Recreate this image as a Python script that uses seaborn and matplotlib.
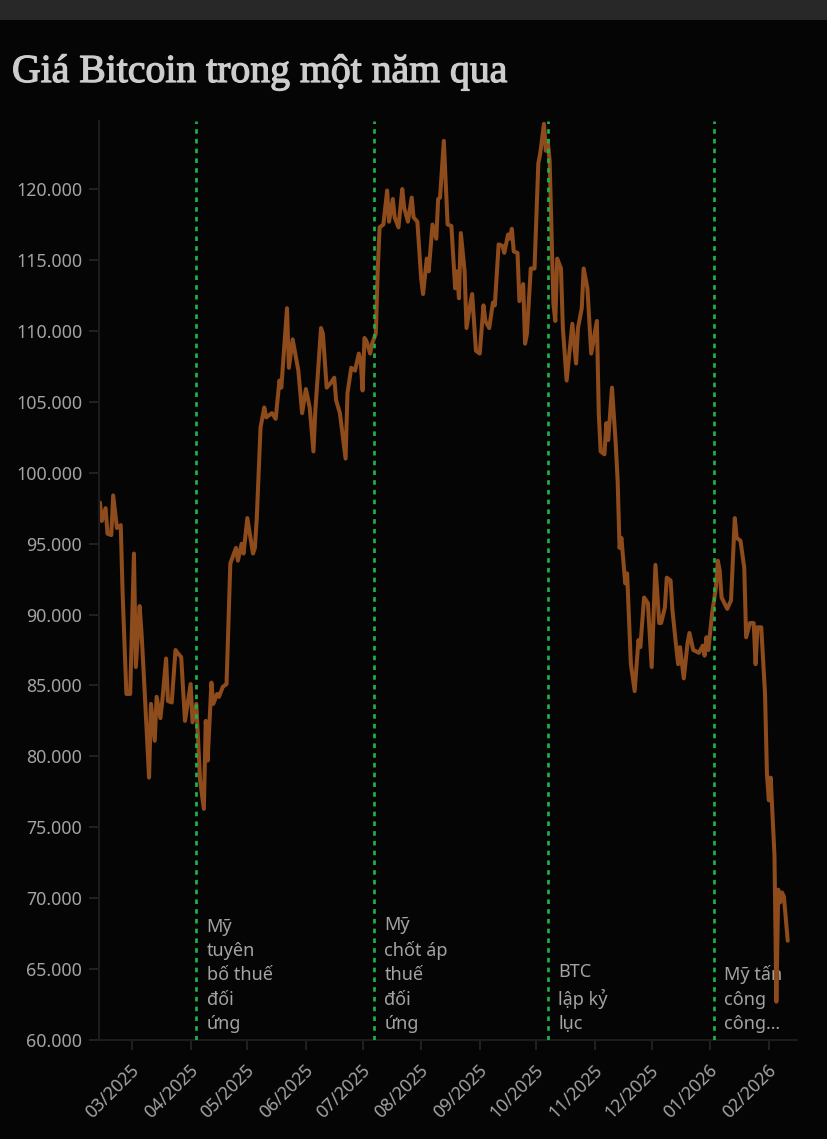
import matplotlib
matplotlib.use("Agg")
import matplotlib.pyplot as plt
import matplotlib.dates as mdates
import matplotlib.transforms as mtransforms
import matplotlib.patheffects as pe
from matplotlib.patches import Rectangle
from matplotlib.ticker import FuncFormatter, MultipleLocator
import pandas as pd
import seaborn as sns

# gia BTC (nghin USD) doc tu bieu do
ngay = [
    "2025-02-12", "2025-02-13", "2025-02-15", "2025-02-16", "2025-02-18", "2025-02-19",
    "2025-02-21", "2025-02-23", "2025-02-24", "2025-02-26", "2025-02-28",
    "2025-03-02", "2025-03-03", "2025-03-05", "2025-03-06", "2025-03-07", "2025-03-10",
    "2025-03-11", "2025-03-13", "2025-03-14", "2025-03-16", "2025-03-17", "2025-03-19",
    "2025-03-20", "2025-03-22", "2025-03-24", "2025-03-25", "2025-03-27", "2025-03-29",
    "2025-04-01", "2025-04-02", "2025-04-04", "2025-04-06", "2025-04-08", "2025-04-09",
    "2025-04-10", "2025-04-12", "2025-04-13", "2025-04-15", "2025-04-16", "2025-04-18",
    "2025-04-20", "2025-04-22", "2025-04-25", "2025-04-26", "2025-04-28", "2025-04-29",
    "2025-05-01", "2025-05-04", "2025-05-05", "2025-05-06", "2025-05-08", "2025-05-10",
    "2025-05-11", "2025-05-14", "2025-05-16", "2025-05-18", "2025-05-19", "2025-05-22",
    "2025-05-23", "2025-05-25", "2025-05-28", "2025-05-30",
    "2025-06-01", "2025-06-03", "2025-06-05", "2025-06-06", "2025-06-09", "2025-06-10",
    "2025-06-12", "2025-06-14", "2025-06-16", "2025-06-17", "2025-06-19", "2025-06-22",
    "2025-06-23", "2025-06-25", "2025-06-27", "2025-06-29", "2025-06-30",
    "2025-07-01", "2025-07-02", "2025-07-03", "2025-07-05", "2025-07-06", "2025-07-08",
    "2025-07-09", "2025-07-10", "2025-07-12", "2025-07-14", "2025-07-15", "2025-07-17",
    "2025-07-18", "2025-07-20", "2025-07-22", "2025-07-23", "2025-07-25", "2025-07-27",
    "2025-07-28", "2025-07-30",
    "2025-08-01", "2025-08-02", "2025-08-04", "2025-08-05", "2025-08-07", "2025-08-09",
    "2025-08-10", "2025-08-11", "2025-08-13", "2025-08-15", "2025-08-17", "2025-08-19",
    "2025-08-20", "2025-08-21", "2025-08-22", "2025-08-24", "2025-08-25", "2025-08-27",
    "2025-08-28", "2025-08-30",
    "2025-09-01", "2025-09-03", "2025-09-04", "2025-09-06", "2025-09-08", "2025-09-09",
    "2025-09-11", "2025-09-13", "2025-09-14", "2025-09-16", "2025-09-17", "2025-09-18",
    "2025-09-19", "2025-09-21", "2025-09-22", "2025-09-24", "2025-09-25", "2025-09-26",
    "2025-09-28", "2025-09-30",
    "2025-10-02", "2025-10-03", "2025-10-05", "2025-10-06", "2025-10-07", "2025-10-08",
    "2025-10-10", "2025-10-11", "2025-10-12", "2025-10-14", "2025-10-15", "2025-10-17",
    "2025-10-20", "2025-10-22", "2025-10-23", "2025-10-25", "2025-10-26", "2025-10-28",
    "2025-10-30",
    "2025-11-02", "2025-11-03", "2025-11-04", "2025-11-06", "2025-11-07", "2025-11-08",
    "2025-11-10", "2025-11-12", "2025-11-13", "2025-11-14", "2025-11-15", "2025-11-17",
    "2025-11-18", "2025-11-20", "2025-11-22", "2025-11-24", "2025-11-25", "2025-11-27",
    "2025-11-29",
    "2025-12-01", "2025-12-03", "2025-12-05", "2025-12-06", "2025-12-08", "2025-12-09",
    "2025-12-11", "2025-12-12", "2025-12-14", "2025-12-15", "2025-12-16", "2025-12-18",
    "2025-12-20", "2025-12-21", "2025-12-23", "2025-12-26", "2025-12-28", "2025-12-29",
    "2025-12-30", "2025-12-31",
    "2026-01-02", "2026-01-04", "2026-01-05", "2026-01-06", "2026-01-07", "2026-01-10",
    "2026-01-12", "2026-01-14", "2026-01-15", "2026-01-17", "2026-01-19", "2026-01-20",
    "2026-01-22", "2026-01-24", "2026-01-25", "2026-01-26", "2026-01-28", "2026-01-30",
    "2026-01-31",
    "2026-02-01", "2026-02-02", "2026-02-04", "2026-02-05", "2026-02-06", "2026-02-07",
    "2026-02-08", "2026-02-09", "2026-02-11",
]
gia_nghin = [
    97.9, 96.6, 97.5, 95.7, 95.6, 98.4,
    96.1, 96.3, 91.5, 84.4, 84.4,
    94.3, 86.3, 90.6, 88.7, 86.3, 78.5,
    83.7, 81.1, 84.2, 82.7, 83.9, 86.9,
    83.9, 83.8, 87.5, 87.3, 87.0, 82.5,
    85.1, 82.4, 83.7, 78.3, 76.3, 82.5,
    79.7, 85.2, 83.7, 84.4, 84.2, 84.9,
    85.1, 93.6, 94.7, 93.8, 95.0, 94.3,
    96.8, 94.3, 94.7, 96.8, 103.2, 104.6,
    103.9, 104.2, 103.8, 106.5, 106.0, 111.6,
    107.4, 109.4, 107.2, 104.2,
    105.9, 104.6, 101.5, 104.4, 110.2, 109.8,
    106.0, 106.3, 106.7, 105.1, 104.2, 101.0,
    105.6, 107.4, 107.2, 108.4, 107.9,
    105.8, 109.5, 109.3, 108.4, 109.1, 109.8,
    114.2, 117.3, 117.5, 119.9, 117.7, 119.3,
    118.0, 117.3, 120.0, 118.7, 117.7, 119.4,
    118.0, 117.7,
    113.7, 112.6, 115.1, 114.2, 117.5, 116.5,
    119.3, 119.4, 123.4, 117.5, 117.4, 113.0,
    114.2, 112.3, 116.9, 114.2, 110.2, 111.9,
    112.6, 108.6,
    108.4, 111.8, 110.7, 110.2, 112.0, 111.8,
    116.1, 116.0, 115.5, 116.8, 116.5, 117.2,
    115.6, 115.5, 112.1, 113.3, 109.1, 109.8,
    114.4, 114.4,
    121.8, 122.5, 124.6, 122.7, 123.4, 122.0,
    111.9, 110.7, 115.1, 114.4, 110.2, 106.5,
    110.5, 107.7, 110.2, 111.6, 114.4, 113.0,
    108.4,
    110.7, 104.2, 101.5, 101.3, 103.5, 102.3,
    106.0, 102.0, 99.4, 94.7, 95.4, 92.2,
    92.9, 86.5, 84.6, 88.2, 87.7, 91.2,
    90.8,
    86.3, 93.5, 89.4, 89.4, 90.5, 92.6,
    92.4, 90.3, 87.7, 86.5, 87.7, 85.5,
    88.0, 88.7, 87.5, 87.3, 87.8, 87.1,
    88.4, 87.5,
    90.1, 91.9, 93.8, 93.1, 91.2, 90.4,
    91.0, 96.8, 95.4, 95.2, 93.3, 88.4,
    89.4, 89.4, 86.5, 89.1, 89.1, 84.4,
    78.8,
    76.9, 78.5, 73.0, 62.7, 70.6, 69.7,
    70.4, 70.1, 67.0,
]

su_kien_ngay = ["2025-04-04", "2025-07-07", "2025-10-07", "2026-01-03"]
su_kien_nhan = [
    "Mỹ\ntuyên\nbố thuế\nđối\nứng",
    "Mỹ\nchốt áp\nthuế\nđối\nứng",
    "BTC\nlập kỷ\nlục",
    "Mỹ tấn\ncông\ncông…",
]

df = pd.DataFrame({"ngay": pd.to_datetime(ngay), "gia": [g * 1000 for g in gia_nghin]})

sns.set_theme(style="dark")
plt.rcParams["font.family"] = ["Noto Sans", "DejaVu Sans"]
nen = "#050505"
chu = "#a3a3a3"

fig = plt.figure(figsize=(8.28, 11.39), dpi=100, facecolor=nen)
fig.patches.append(Rectangle((0, 1 - 20 / 1139), 1, 20 / 1139, transform=fig.transFigure,
                             facecolor="#282828", edgecolor="none", zorder=0))
ax = fig.add_axes([99 / 828, 99 / 1139, 698 / 828, 919 / 1139])
ax.set_facecolor(nen)

sns.lineplot(data=df, x="ngay", y="gia", ax=ax, color="#8e4b1b", linewidth=2.9, zorder=2,
             solid_joinstyle="round")

for d, nhan in zip(su_kien_ngay, su_kien_nhan):
    d = pd.Timestamp(d)
    ax.axvline(d, color="#1fb04a", linestyle=(0, (1.7, 1.9)), linewidth=1.95, zorder=3)
    ax.annotate(nhan, xy=(d, 0), xycoords=("data", "axes fraction"), xytext=(7.5, 5),
                textcoords="offset points", ha="left", va="bottom", color=chu,
                fontsize=13, linespacing=1.45, zorder=1)

ax.set_xlim(pd.Timestamp("2025-02-11 12:00"), pd.Timestamp("2026-02-15 22:00"))
ax.set_ylim(60000, 124800)
ax.yaxis.set_major_locator(MultipleLocator(5000))
ax.yaxis.set_major_formatter(FuncFormatter(lambda v, p: f"{v:,.0f}".replace(",", ".")))
ax.xaxis.set_major_locator(mdates.MonthLocator())
ax.xaxis.set_major_formatter(mdates.DateFormatter("%m/%Y"))
ax.set_xlabel("")
ax.set_ylabel("")
ax.grid(False)

for s in ["top", "right"]:
    ax.spines[s].set_visible(False)
for s in ["left", "bottom"]:
    ax.spines[s].set_visible(True)
    ax.spines[s].set_color("#1c1c1c")
    ax.spines[s].set_linewidth(1.5)

ax.tick_params(axis="y", length=7, width=1.2, color="#262626", pad=5, labelsize=12.8,
               labelcolor=chu, left=True)
ax.tick_params(axis="x", length=7, width=1.2, color="#262626", pad=8.5, labelsize=12.8,
               labelcolor=chu, bottom=True)
dich = mtransforms.ScaledTranslation(-2 / 100, 0, fig.dpi_scale_trans)
for lbl in ax.get_xticklabels():
    lbl.set_rotation(45)
    lbl.set_ha("right")
    lbl.set_va("top")
    lbl.set_rotation_mode("anchor")
    lbl.set_transform(lbl.get_transform() + dich)

tieu_de = fig.text(12 / 828, 1 - 82 / 1139, "Giá Bitcoin trong một năm qua",
                   family="Liberation Serif", fontsize=28.6, color="#cdcdcd",
                   ha="left", va="baseline")
tieu_de.set_path_effects([pe.withStroke(linewidth=0.9, foreground="#cdcdcd")])

fig.savefig("out.png", dpi=100, facecolor=nen)
